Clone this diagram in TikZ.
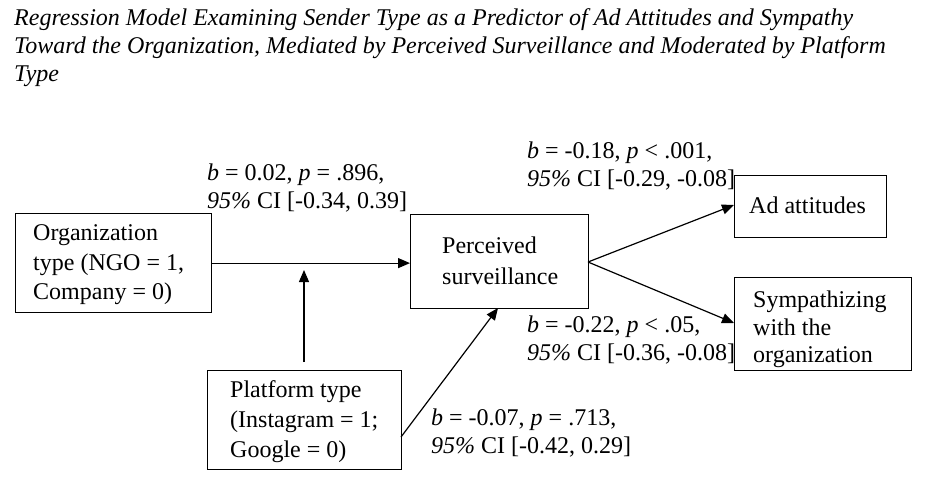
\documentclass[tikz,border=0pt]{standalone}
\usepackage{fontspec}
\setmainfont{Liberation Serif}
\usetikzlibrary{arrows.meta}
\begin{document}
\begin{tikzpicture}[x=1pt,y=-1pt,
  box/.style={draw, line width=1.2pt, inner sep=0pt, anchor=north west},
  txt/.style={inner sep=0pt, anchor=base west, font=\fontsize{24}{28}\selectfont},
  ttl/.style={inner sep=0pt, anchor=base west, font=\fontsize{24}{28}\selectfont\itshape},
  arr/.style={line width=1.2pt, -{Triangle[length=12pt,width=10pt]}},
  ln/.style={line width=1.2pt}]
\useasboundingbox (0,0) rectangle (933,499);
\fill[white] (0,0) rectangle (933,499);
% title
\node[ttl] (t1) at (14,25) {Regression Model Examining Sender Type as a Predictor of Ad Attitudes and Sympathy};
\node[ttl] (t2) at (14,53) {Toward the Organization, Mediated by Perceived Surveillance and Moderated by Platform};
\node[ttl] (t3) at (14,81) {Type};
% boxes
\node[box, minimum width=196pt, minimum height=99pt] (org) at (15,213) {};
\node[box, minimum width=178pt, minimum height=94pt] (perc) at (410,214) {};
\node[box, minimum width=152pt, minimum height=62pt] (ad) at (734,175) {};
\node[box, minimum width=177pt, minimum height=93pt] (symp) at (734,277) {};
\node[box, minimum width=194pt, minimum height=99pt] (plat) at (207,370) {};
% box texts
\node[txt] (orgA) at (33,240) {Organization};
\node[txt] (orgB) at (33,270) {type (NGO = 1,};
\node[txt] (orgC) at (33,299) {Company = 0)};
\node[txt] (percA) at (442,253) {Perceived};
\node[txt] (percB) at (442,284) {surveillance};
\node[txt] (adA) at (749,213) {Ad attitudes};
\node[txt] (sympA) at (753,307) {Sympathizing};
\node[txt] (sympB) at (753,335) {with the};
\node[txt] (sympC) at (753,362) {organization};
\node[txt] (platA) at (230,397) {Platform type};
\node[txt] (platB) at (230,427) {(Instagram = 1;};
\node[txt] (platC) at (230,457) {Google = 0)};
% labels
\node[txt] (l1a) at (207,180) {\textit{b} = 0.02, \textit{p} = .896,};
\node[txt] (l1b) at (207,208) {\textit{95\%} CI [-0.34, 0.39]};
\node[txt] (l2a) at (527,158) {\textit{b} = -0.18, \textit{p} < .001,};
\node[txt] (l2b) at (527,186) {\textit{95\%} CI [-0.29, -0.08]};
\node[txt] (l3a) at (527,332) {\textit{b} = -0.22, \textit{p} < .05,};
\node[txt] (l3b) at (527,360) {\textit{95\%} CI [-0.36, -0.08]};
\node[txt] (l4a) at (431,425) {\textit{b} = -0.07, \textit{p} = .713,};
\node[txt] (l4b) at (431,453) {\textit{95\%} CI [-0.42, 0.29]};
% connector points
\coordinate (percR) at (588,262);
\coordinate (adIn) at (734,205);
\coordinate (sympIn) at (734,323);
\coordinate (modS) at (304,362);
\coordinate (modE) at (304,270);
\coordinate (platOut) at (401,437);
\coordinate (percIn) at (498,308);
% connectors
\draw[arr] (org.east) -- (org.east -| perc.west);
\draw[arr] (modS) -- (modE);
\draw[arr] (platOut) -- (percIn);
\draw[arr] (percR) -- (adIn);
\draw[arr] (percR) -- (sympIn);
\end{tikzpicture}
\end{document}
